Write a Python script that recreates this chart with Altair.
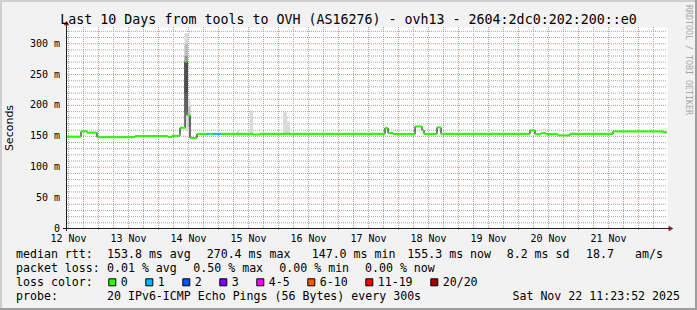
import altair as alt
import pandas as pd

# ---------------- texts ----------------
title_text = "Last 10 Days from tools to OVH (AS16276) - ovh13 - 2604:2dc0:202:200::e0"
y_title = "Seconds"
watermark = "RRDTOOL / TOBI OETIKER"

# time axis: hours since 12 Nov 00:00
x_start_h = 11.398   # 12 Nov 11:23:52
x_end_h = 251.398    # 22 Nov 11:23:52

day_labels = ["12 Nov", "13 Nov", "14 Nov", "15 Nov", "16 Nov",
              "17 Nov", "18 Nov", "19 Nov", "20 Nov", "21 Nov"]
day_label_hours = [12, 36, 60, 84, 108, 132, 156, 180, 204, 228]

y_tick_values = [0, 50, 100, 150, 200, 250, 300]
y_tick_labels = ["0", "50 m", "100 m", "150 m", "200 m", "250 m", "300 m"]

# ---------------- median rtt (ms), step segments ----------------
seg_start = [11.4, 17.0, 19.4, 23.4, 38.6, 51.8, 53.4, 56.6, 58.6, 59.4,
             60.6, 63.4, 67.4, 68.2, 69.8, 73.0, 85.8, 88.6, 138.6, 139.8,
             141.8, 150.6, 153.4, 154.2, 159.4, 161.0, 196.6, 198.6, 201.0, 203.0,
             207.8, 212.6, 229.8, 249.8]
seg_median = [149.5, 158.0, 156.0, 148.5, 150.5, 149.0, 151.0, 164.0, 271.0, 184.0,
              147.5, 154.0, 154.0, 154.0, 154.0, 154.0, 153.0, 154.0, 163.5, 155.5,
              153.5, 166.0, 160.0, 154.0, 164.5, 154.0, 159.5, 153.5, 155.0, 153.5,
              151.5, 154.0, 158.0, 156.4]
seg_loss = ["0", "0", "0", "0", "0", "0", "0", "0", "0", "0",
            "0", "0", "1", "0", "1", "0", "0", "0", "0", "0",
            "0", "0", "0", "0", "0", "0", "0", "0", "0", "0",
            "0", "0", "0", "0"]
last_end = 251.4

# ---------------- smoke (ping spread) ----------------
smoke_start = [58.4, 58.4, 58.4, 59.8, 59.8, 79.4, 84.6, 97.8, 99.4]
smoke_end = [59.8, 59.8, 59.8, 60.8, 60.8, 80.2, 85.8, 99.4, 100.6]
smoke_low = [160, 190, 220, 150, 165, 150, 153, 153, 153]
smoke_high = [317, 300, 280, 208, 198, 160, 192, 189, 174]
smoke_level = [1, 2, 3, 1, 2, 1, 1, 1, 1]

# ---------------- legend ----------------
loss_labels = ["0", "1", "2", "3", "4-5", "6-10", "11-19", "20/20"]
loss_colors = ["#26ff00", "#00b8ff", "#0059ff", "#7e00ff", "#ff00ff", "#ff5500", "#ff0000", "#a10000"]

rtt_head = "median rtt:"
rtt_items = ["153.8 ms avg", "270.4 ms max", "147.0 ms min", "155.3 ms now", "8.2 ms sd", "18.7", "am/s"]
pl_head = "packet loss:"
pl_items = ["0.01 % avg", "0.50 % max", "0.00 % min", "0.00 % now"]
lc_head = "loss color:"
probe_head = "probe:"
probe_text = "20 IPv6-ICMP Echo Pings (56 Bytes) every 300s"
stamp_text = "Sat Nov 22 11:23:52 2025"

# ---------------- layout (pixels) ----------------
W, H = 600, 202
PL, PT = 67, 27
MONO = "DejaVu Sans Mono"
rtt_cols = [107, 206.7, 311.7, 407.3, 506.7, 586, 635]
pl_cols = [107, 193.3, 279.3, 365]
row_base = [258, 272, 286, 300]

xs = alt.Scale(domain=[x_start_h, x_end_h], nice=False, zero=False)
ys = alt.Scale(domain=[0, 327], nice=False, zero=True)
loss_scale = alt.Scale(domain=loss_labels, range=loss_colors)

one = pd.DataFrame({"k": [0]})

# grids
gx_minor = pd.DataFrame({"h": [h for h in range(12, 252, 6) if h % 24 != 0]})
gx_major = pd.DataFrame({"h": list(range(24, 252, 24))})
gy_minor = pd.DataFrame({"v": [v for v in range(10, 327, 10) if v % 50 != 0]})
gy_major = pd.DataFrame({"v": list(range(50, 301, 50))})

grid_minor_style = dict(color="#a6a6a6", opacity=1, strokeDash=[1, 1], strokeWidth=1)
grid_major_style = dict(color="#e89090", opacity=1, strokeDash=[1, 1], strokeWidth=1)

vgrid_minor = alt.Chart(gx_minor).mark_rule(**grid_minor_style).encode(
    x=alt.X("h:Q", scale=xs, axis=None), y=alt.value(0), y2=alt.value(H))
vgrid_major = alt.Chart(gx_major).mark_rule(**grid_major_style).encode(
    x=alt.X("h:Q", scale=xs, axis=None), y=alt.value(0), y2=alt.value(H + 2))
hgrid_minor = alt.Chart(gy_minor).mark_rule(**grid_minor_style).encode(
    y=alt.Y("v:Q", scale=ys, axis=None), x=alt.value(0), x2=alt.value(W))
hgrid_major = alt.Chart(gy_major).mark_rule(**grid_major_style).encode(
    y=alt.Y("v:Q", scale=ys, axis=None), x=alt.value(0), x2=alt.value(W))

# smoke
smoke_df = pd.DataFrame({"s": smoke_start, "e": smoke_end, "lo": smoke_low,
                         "hi": smoke_high, "lvl": smoke_level})
smoke = alt.Chart(smoke_df).mark_rect().encode(
    x=alt.X("s:Q", scale=xs, axis=None), x2="e:Q",
    y=alt.Y("lo:Q", scale=ys, axis=None), y2="hi:Q",
    color=alt.Color("lvl:O", scale=alt.Scale(domain=[1, 2, 3], range=["#dadada", "#bdbdbd", "#9a9a9a"]),
                    legend=None))

# median line (black steps) + loss-coloured segments
line_df = pd.DataFrame({"h": seg_start + [last_end], "v": seg_median + [seg_median[-1]]})
step_line = alt.Chart(line_df).mark_line(interpolate="step-after", color="black", strokeWidth=1).encode(
    x=alt.X("h:Q", scale=xs, axis=None), y=alt.Y("v:Q", scale=ys, axis=None))

seg_df = pd.DataFrame({"s": seg_start, "e": seg_start[1:] + [last_end], "v": seg_median, "loss": seg_loss})
segs = alt.Chart(seg_df).mark_rule(strokeWidth=2, strokeCap="butt").encode(
    x=alt.X("s:Q", scale=xs, axis=None), x2="e:Q",
    y=alt.Y("v:Q", scale=ys, axis=None),
    color=alt.Color("loss:N", scale=loss_scale, legend=None))

# axis lines and arrows
axis_col = "#1f1f1f"
arrow_col = "#801f1f"
xaxis_line = alt.Chart(one).mark_rule(color=axis_col, strokeWidth=1).encode(
    x=alt.value(-4), x2=alt.value(W + 2), y=alt.value(H - 0.5))
yaxis_line = alt.Chart(one).mark_rule(color=axis_col, strokeWidth=1).encode(
    x=alt.value(-0.5), y=alt.value(H + 2), y2=alt.value(-2))
xarrow = alt.Chart(one).mark_point(shape="triangle-right", filled=True, size=30, color=arrow_col, opacity=1).encode(
    x=alt.value(W + 4), y=alt.value(H - 0.5))
yarrow = alt.Chart(one).mark_point(shape="triangle-up", filled=True, size=30, color=arrow_col, opacity=1).encode(
    x=alt.value(-0.5), y=alt.value(-4))

# tick labels
xlab_df = pd.DataFrame({"h": day_label_hours, "t": day_labels})
xlabels = alt.Chart(xlab_df).mark_text(font=MONO, fontSize=10, baseline="alphabetic", align="center", color="black").encode(
    x=alt.X("h:Q", scale=xs, axis=None), y=alt.value(241.7 - PT), text="t:N")
ylab_df = pd.DataFrame({"v": y_tick_values, "t": y_tick_labels})
ylabels = alt.Chart(ylab_df).mark_text(font=MONO, fontSize=10, baseline="middle", align="right", color="black").encode(
    y=alt.Y("v:Q", scale=ys, axis=None), x=alt.value(60 - PL), text="t:N")

# titles
title = alt.Chart(pd.DataFrame({"t": [title_text]})).mark_text(
    font=MONO, fontSize=13.3, align="center", baseline="alphabetic", color="black").encode(
    x=alt.value(348.5 - PL), y=alt.value(24 - PT), text="t:N")
ytitle = alt.Chart(pd.DataFrame({"t": [y_title]})).mark_text(
    font="DejaVu Sans", fontSize=11, align="center", baseline="middle", angle=270, color="black").encode(
    x=alt.value(10 - PL), y=alt.value(128 - PT), text="t:N")
wm = alt.Chart(pd.DataFrame({"t": [watermark]})).mark_text(
    font=MONO, fontSize=8.3, align="center", baseline="middle", angle=90, color="#a8a8a8").encode(
    x=alt.value(688 - PL), y=alt.value(60 - PT), text="t:N")

# legend text rows
LEG = dict(font=MONO, fontSize=11.6, baseline="alphabetic", align="left", color="black")
rows = []
rows.append((rtt_head, 16, row_base[0]))
for txt, cx in zip(rtt_items, rtt_cols):
    rows.append((txt, cx, row_base[0]))
rows.append((pl_head, 16, row_base[1]))
for txt, cx in zip(pl_items, pl_cols):
    rows.append((txt, cx, row_base[1]))
rows.append((lc_head, 16, row_base[2]))
rows.append((probe_head, 16, row_base[3]))
rows.append((probe_text, 107, row_base[3]))
leg_df = pd.DataFrame({"t": [r[0] for r in rows],
                       "px": [r[1] - PL for r in rows],
                       "py": [r[2] - PT for r in rows]})
legend_text = alt.Chart(leg_df).mark_text(**LEG).encode(
    x=alt.X("px:Q", scale=None), y=alt.Y("py:Q", scale=None), text="t:N")
stamp = alt.Chart(pd.DataFrame({"t": [stamp_text]})).mark_text(**{**LEG, "align": "right"}).encode(
    x=alt.value(680 - PL), y=alt.value(row_base[3] - PT), text="t:N")

# loss colour swatches
lefts = []
cur = 108.3
for lab in loss_labels:
    lefts.append(cur)
    cur += 9 + 7 * (len(lab) + 3)
sw_df = pd.DataFrame({"loss": loss_labels,
                      "sx": [l + 4 - PL for l in lefts],
                      "lx": [l + 12.4 - PL for l in lefts],
                      "sy": [282.3 - PT] * len(loss_labels),
                      "ly": [row_base[2] - PT] * len(loss_labels)})
swatches = alt.Chart(sw_df).mark_square(size=49, stroke="black", strokeWidth=1, opacity=1).encode(
    x=alt.X("sx:Q", scale=None), y=alt.Y("sy:Q", scale=None),
    fill=alt.Fill("loss:N", scale=loss_scale, legend=None))
sw_labels = alt.Chart(sw_df).mark_text(**LEG).encode(
    x=alt.X("lx:Q", scale=None), y=alt.Y("ly:Q", scale=None), text="loss:N")

# image border (3D shade)
shadeA, shadeB = "#cfcfcf", "#9e9e9e"
b_top = alt.Chart(one).mark_rule(color=shadeA, strokeWidth=2).encode(
    x=alt.value(-PL), x2=alt.value(697 - PL), y=alt.value(1 - PT))
b_left = alt.Chart(one).mark_rule(color=shadeA, strokeWidth=2).encode(
    x=alt.value(1 - PL), y=alt.value(-PT), y2=alt.value(310 - PT))
b_right = alt.Chart(one).mark_rule(color=shadeB, strokeWidth=2).encode(
    x=alt.value(696 - PL), y=alt.value(-PT), y2=alt.value(310 - PT))
b_bottom = alt.Chart(one).mark_rule(color=shadeB, strokeWidth=2).encode(
    x=alt.value(-PL), x2=alt.value(697 - PL), y=alt.value(309 - PT))

chart = alt.layer(
    vgrid_minor, hgrid_minor, vgrid_major, hgrid_major,
    smoke, step_line, segs,
    xaxis_line, yaxis_line, xarrow, yarrow,
    xlabels, ylabels, title, ytitle, wm,
    legend_text, stamp, swatches, sw_labels,
    b_top, b_left, b_right, b_bottom,
).resolve_scale(color="independent", fill="independent").properties(
    width=W, height=H,
    padding={"left": PL, "top": PT, "right": 697 - PL - W, "bottom": 310 - PT - H},
    autosize=alt.AutoSizeParams(type="none"),
    background="#f2f2f2",
).configure_view(fill="white", stroke="transparent")

chart.save("out.html", embed_options={"renderer": "svg", "actions": False})
